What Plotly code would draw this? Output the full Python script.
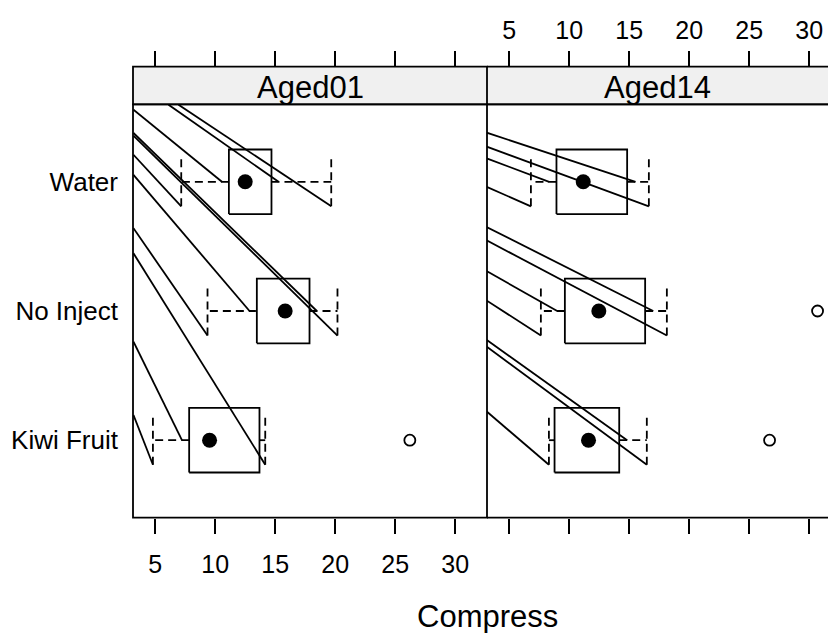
import plotly.graph_objects as go

# ---------------- data ----------------
groups = ["Kiwi Fruit", "No Inject", "Water"]
panels = ["Aged01", "Aged14"]
x_ticks = [5, 10, 15, 20, 25, 30]

# Aged01 box statistics (order: Kiwi Fruit, No Inject, Water)
a01_lower = [4.81, 9.36, 7.17]
a01_q1 = [7.83, 13.47, 11.14]
a01_median = [9.53, 15.83, 12.50]
a01_q3 = [13.69, 17.86, 14.69]
a01_upper = [14.17, 20.19, 19.67]
a01_out_x = [26.22]
a01_out_g = ["Kiwi Fruit"]

# Aged14 box statistics
a14_lower = [8.31, 7.64, 6.81]
a14_q1 = [8.78, 9.64, 8.94]
a14_median = [11.61, 12.47, 11.17]
a14_q3 = [14.17, 16.33, 14.83]
a14_upper = [16.47, 18.14, 16.64]
a14_out_x = [26.7, 30.7]
a14_out_g = ["Kiwi Fruit", "No Inject"]

# stray diagonal strokes drawn in each panel (start -> end, data units)
a01_seg_x0 = [3.19, 6.11, 6.94, 3.19, 3.19, 3.19, 3.19, 3.19, 3.19, 3.19, 3.19]
a01_seg_y0 = [3.558, 3.597, 3.597, 3.378, 3.357, 3.209, 3.054, 2.641, 2.447, 1.762, 1.194]
a01_seg_x1 = [10.56, 15.28, 19.67, 18.47, 20.19, 7.17, 12.86, 9.36, 14.17, 7.23, 4.81]
a01_seg_y1 = [3.0, 3.0, 2.81, 2.0, 1.81, 2.81, 2.0, 1.81, 0.81, 1.0, 0.81]

a14_seg_x0 = [3.06, 3.06, 3.06, 3.06, 3.06, 3.06, 3.06, 3.06, 3.06, 3.06, 3.06]
a14_seg_y0 = [3.382, 3.274, 3.184, 2.964, 2.653, 2.55, 2.312, 2.085, 1.78, 1.729, 1.227]
a14_seg_x1 = [15.53, 16.64, 8.33, 6.81, 17.0, 18.14, 9.0, 7.64, 14.83, 16.47, 8.31]
a14_seg_y1 = [3.0, 2.81, 3.0, 2.81, 2.0, 1.81, 2.0, 1.81, 1.0, 0.81, 0.81]

# ---------------- style ----------------
FONT = "Liberation Sans, Arial, sans-serif"
LW = 1.8
BOX_HALF = 0.25
CAP_HALF = 0.19
DASH = "8px,5px"

fig = go.Figure()


def add_panel(xa, ya, lower, q1, med, q3, upper, out_x, out_g,
              sx0, sy0, sx1, sy1):
    lx, ly = [], []
    for a, b, c, d in zip(sx0, sy0, sx1, sy1):
        lx += [a, c, None]
        ly += [b, d, None]
    fig.add_trace(go.Scatter(x=lx, y=ly, mode="lines", xaxis=xa, yaxis=ya,
                             line=dict(color="black", width=LW),
                             hoverinfo="skip", showlegend=False))
    bx, by = [], []
    wx, wy = [], []
    for i, g in enumerate(groups):
        c = i + 1
        bx += [q1[i], q3[i], q3[i], q1[i], q1[i], None]
        by += [c - BOX_HALF, c - BOX_HALF, c + BOX_HALF, c + BOX_HALF, c - BOX_HALF, None]
        wx += [q1[i], lower[i], None, q3[i], upper[i], None,
               lower[i], lower[i], None, upper[i], upper[i], None]
        wy += [c, c, None, c, c, None,
               c - CAP_HALF, c + CAP_HALF, None, c - CAP_HALF, c + CAP_HALF, None]
    fig.add_trace(go.Scatter(x=wx, y=wy, mode="lines", xaxis=xa, yaxis=ya,
                             line=dict(color="black", width=LW, dash=DASH),
                             hoverinfo="skip", showlegend=False))
    fig.add_trace(go.Scatter(x=bx, y=by, mode="lines", xaxis=xa, yaxis=ya,
                             line=dict(color="black", width=LW),
                             hoverinfo="skip", showlegend=False))
    fig.add_trace(go.Scatter(x=med, y=[i + 1 for i in range(len(groups))],
                             mode="markers", xaxis=xa, yaxis=ya,
                             marker=dict(symbol="circle", size=15, color="black"),
                             showlegend=False))
    fig.add_trace(go.Scatter(x=out_x, y=[groups.index(g) + 1 for g in out_g],
                             mode="markers", xaxis=xa, yaxis=ya, cliponaxis=False,
                             marker=dict(symbol="circle-open", size=11, color="black",
                                         line=dict(width=1.8, color="black")),
                             showlegend=False))


add_panel("x", "y", a01_lower, a01_q1, a01_median, a01_q3, a01_upper,
          a01_out_x, a01_out_g, a01_seg_x0, a01_seg_y0, a01_seg_x1, a01_seg_y1)
add_panel("x2", "y2", a14_lower, a14_q1, a14_median, a14_q3, a14_upper,
          a14_out_x, a14_out_g, a14_seg_x0, a14_seg_y0, a14_seg_x1, a14_seg_y1)

fig.add_trace(go.Scatter(x=[None], y=[None], xaxis="x3", yaxis="y3",
                         showlegend=False, hoverinfo="skip"))
fig.add_trace(go.Scatter(x=[None], y=[None], xaxis="x4", yaxis="y3",
                         showlegend=False, hoverinfo="skip"))

W, H = 828, 633


def fx(px):
    return px / W


def fy(py):
    return (H - py) / H


x_left = fx(133)
x_mid = fx(487)
y_bot = fy(517.7)
y_top = fy(104.3)
y_strip = fy(66.7)

range_left = [3.15, 32.65]
range_right = [3.15, 31.57]

tick_font = dict(family=FONT, size=25, color="black")
common_x = dict(tickvals=x_ticks, ticks="outside", ticklen=15, tickwidth=1.6,
                tickcolor="black", showgrid=False, zeroline=False, showline=False,
                tickfont=tick_font, fixedrange=True)

fig.update_layout(
    width=W, height=H, autosize=False,
    margin=dict(l=0, r=0, t=0, b=0),
    paper_bgcolor="white", plot_bgcolor="white",
    font=dict(family=FONT, color="black"),
    showlegend=False,
    xaxis=dict(domain=[x_left, x_mid], range=range_left, anchor="y", side="bottom",
               ticklabelstandoff=9, **common_x),
    xaxis2=dict(domain=[x_mid, 1.0], range=range_right, anchor="y2", side="bottom",
                showticklabels=False, **common_x),
    xaxis3=dict(domain=[x_left, x_mid], range=range_left, anchor="y3", side="top",
                showticklabels=False, **common_x),
    xaxis4=dict(domain=[x_mid, 1.0], range=range_right, anchor="y3", side="top",
                ticklabelstandoff=2, **common_x),
    yaxis=dict(domain=[y_bot, y_top], range=[0.4, 3.6], anchor="x",
               tickvals=[1, 2, 3], ticktext=groups, ticks="",
               ticklabelstandoff=14, showgrid=False, zeroline=False, showline=False,
               tickfont=dict(family=FONT, size=26, color="black"), fixedrange=True),
    yaxis2=dict(domain=[y_bot, y_top], range=[0.4, 3.6], anchor="x2",
                showticklabels=False, ticks="", showgrid=False, zeroline=False,
                showline=False, fixedrange=True),
    yaxis3=dict(domain=[y_top, y_strip], range=[0, 1], anchor="x3", visible=False,
                fixedrange=True),
)

BORDER = dict(color="black", width=1.8)
shapes = []
for xr in ["x domain", "x2 domain"]:
    shapes.append(dict(type="rect", xref=xr, yref="y3 domain", x0=0, x1=1, y0=0, y1=1,
                       fillcolor="#F0F0F0", line=dict(width=0), layer="below"))
shapes.append(dict(type="rect", xref="x domain", yref="y3 domain", x0=0, x1=1, y0=0, y1=1,
                   line=BORDER, layer="above"))
for yv in [0, 1]:
    shapes.append(dict(type="line", xref="x2 domain", yref="y3 domain", x0=0, x1=1,
                       y0=yv, y1=yv, line=BORDER, layer="above"))
shapes.append(dict(type="rect", xref="x domain", yref="y domain", x0=0, x1=1, y0=0, y1=1,
                   line=BORDER, layer="above"))
for yv in [0, 1]:
    shapes.append(dict(type="line", xref="x2 domain", yref="y2 domain", x0=0, x1=1,
                       y0=yv, y1=yv, line=BORDER, layer="above"))
fig.update_layout(shapes=shapes)

annotations = []
for xr, name in zip(["x domain", "x2 domain"], panels):
    annotations.append(dict(text=name, xref=xr, yref="y3 domain", x=0.5, y=0.45,
                            xanchor="center", yanchor="middle", showarrow=False,
                            font=dict(family=FONT, size=31, color="black")))
annotations.append(dict(text="Compress", xref="paper", yref="paper", x=fx(488), y=fy(616),
                        xanchor="center", yanchor="middle", showarrow=False,
                        font=dict(family=FONT, size=31, color="black")))
fig.update_layout(annotations=annotations)

# remove the default page margin so the figure fills the window exactly
fig.write_html(
    "out.html",
    config={"displayModeBar": False},
    post_script="document.body.style.margin='0';document.body.style.overflow='hidden';"
)
